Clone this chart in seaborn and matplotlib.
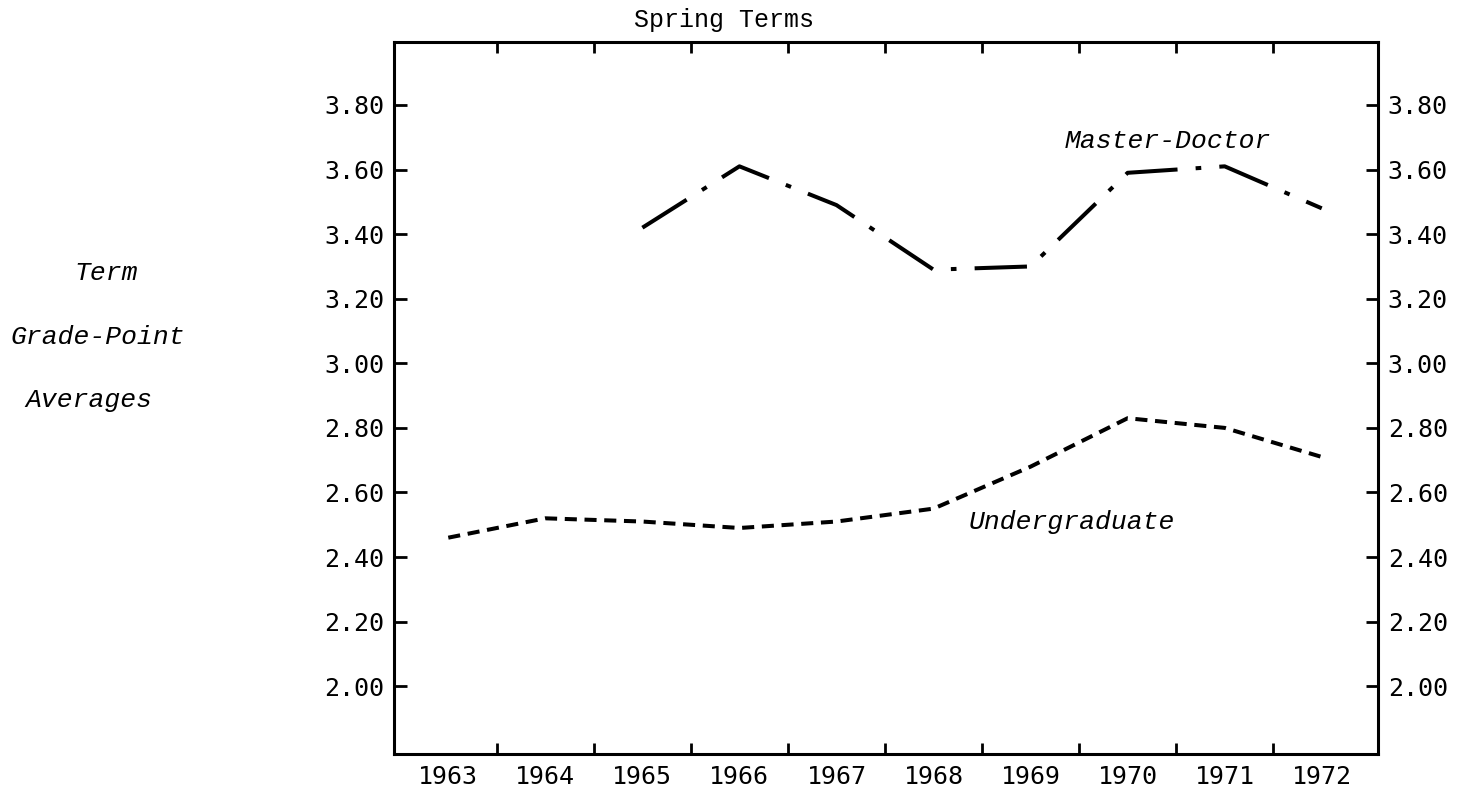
import numpy as np
import pandas as pd
import seaborn as sns
import matplotlib.pyplot as plt
from matplotlib.ticker import FixedLocator, FormatStrFormatter

# spring-term grade-point averages
years = [1963, 1964, 1965, 1966, 1967, 1968, 1969, 1970, 1971, 1972]
undergrad = [2.46, 2.52, 2.51, 2.49, 2.51, 2.55, 2.68, 2.83, 2.80, 2.71]

md_years = [1965, 1966, 1967, 1968, 1969, 1970, 1971, 1972]
master_doctor = [3.42, 3.61, 3.49, 3.29, 3.30, 3.59, 3.61, 3.48]

y_ticks = [2.00, 2.20, 2.40, 2.60, 2.80, 3.00, 3.20, 3.40, 3.60, 3.80]

sns.set_style('white')
plt.rcParams['text.color'] = 'black'
plt.rcParams['xtick.color'] = 'black'
plt.rcParams['ytick.color'] = 'black'
mono = 'Liberation Mono'
sans_mono = 'DejaVu Sans Mono'

fig = plt.figure(figsize=(14.71, 7.87), dpi=100)
ax = fig.add_axes([0.2678, 0.0419, 0.669, 0.9047])

ug = pd.DataFrame({'year': years, 'gpa': undergrad})
md = pd.DataFrame({'year': md_years, 'gpa': master_doctor})

sns.lineplot(data=ug, x='year', y='gpa', ax=ax, color='black', linewidth=2.9)
ax.lines[-1].set_linestyle((0, (3.0, 1.9)))
sns.lineplot(data=md, x='year', y='gpa', ax=ax, color='black', linewidth=2.9)
ax.lines[-1].set_linestyle((0, (13, 4.5, 1.4, 4.5)))

ax.set_xlim(1962.44, 1972.58)
ax.set_ylim(1.79, 3.995)

# year labels sit between the tick marks
ax.xaxis.set_major_locator(FixedLocator(years))
ax.xaxis.set_minor_locator(FixedLocator([y + 0.5 for y in years[:-1]]))
ax.set_xticklabels([str(y) for y in years], fontfamily=sans_mono, fontsize=18)
ax.tick_params(axis='x', which='major', length=0, pad=8)
ax.tick_params(axis='x', which='minor', direction='in', length=8, width=2,
               top=True, bottom=True)

ax.yaxis.set_major_locator(FixedLocator(y_ticks))
ax.yaxis.set_major_formatter(FormatStrFormatter('%.2f'))
ax.tick_params(axis='y', direction='in', length=9, width=2, left=True, right=True,
               labelleft=True, labelright=True, pad=7)
for lab in ax.get_yticklabels():
    lab.set_fontfamily(sans_mono)
    lab.set_fontsize(18)

for s in ax.spines.values():
    s.set_visible(True)
    s.set_color('black')
    s.set_linewidth(2.2)

ax.set_xlabel('')
ax.set_ylabel('')

ax.text(1970.41, 3.69, 'Master-Doctor', fontfamily=mono, fontstyle='italic',
        fontsize=19, ha='center', va='center')
ax.text(1969.42, 2.508, 'Undergraduate', fontfamily=mono, fontstyle='italic',
        fontsize=19, ha='center', va='center')

fig.text(0.492, 0.975, 'Spring Terms', fontfamily=mono, fontsize=18,
         ha='center', va='center')
fig.text(106 / 1471, 1 - 273 / 787, 'Term', fontfamily=mono, fontstyle='italic',
         fontsize=19, ha='center', va='center')
fig.text(98 / 1471, 1 - 337 / 787, 'Grade-Point', fontfamily=mono, fontstyle='italic',
         fontsize=19, ha='center', va='center')
fig.text(89 / 1471, 1 - 400 / 787, 'Averages', fontfamily=mono, fontstyle='italic',
         fontsize=19, ha='center', va='center')

fig.savefig('out.png', dpi=100)
